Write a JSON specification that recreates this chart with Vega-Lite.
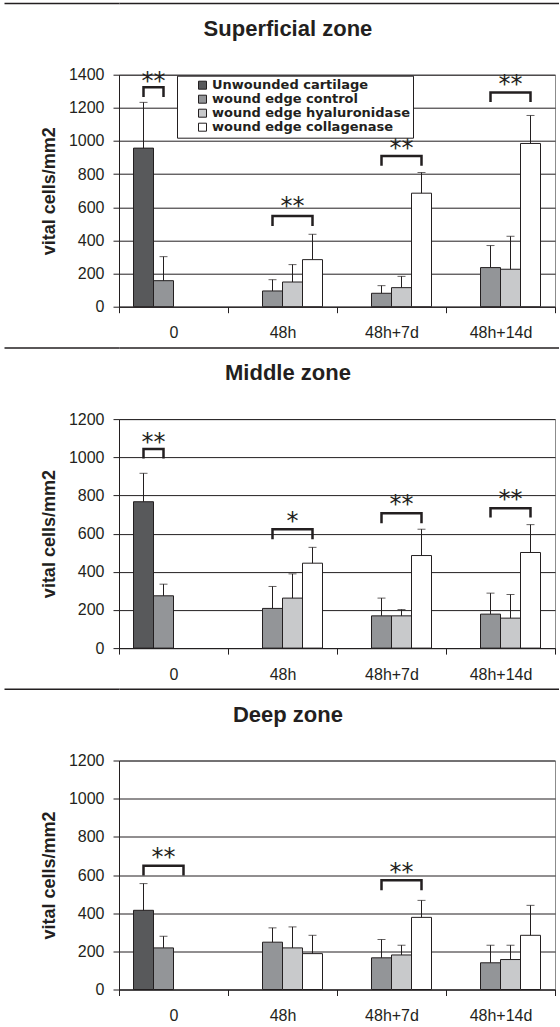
{
  "$schema": "https://vega.github.io/schema/vega-lite/v6.json",
  "background": "white",
  "padding": {"left": 3, "top": 2, "right": 0, "bottom": 0},
  "config": {
    "font": "Liberation Sans",
    "view": {"stroke": "#8c8c8c", "strokeWidth": 1},
    "axis": {
      "labelFont": "Liberation Sans", "labelFontSize": 16, "labelColor": "#231f20",
      "domainColor": "#231f20", "tickColor": "#231f20", "tickSize": 6,
      "titleFont": "Liberation Sans", "titleFontSize": 18, "titleFontWeight": "bold", "titleColor": "#231f20"
    },
    "axisY": {"labelOverlap": false, "labelFlush": false, "format": "d"},
    "title": {"font": "Liberation Sans", "fontSize": 22, "fontWeight": "bold", "color": "#231f20", "anchor": "middle", "frame": "bounds", "offset": 26, "dx": -10, "lineHeight": 8}
  },
  "columns": 1,
  "spacing": 4.7,
  "resolve": {"scale": {"y": "independent", "color": "independent"}, "legend": {"color": "independent"}},
  "datasets": {
    "rule": [{"v": 0}],
    "bars": [
      {"zone": "Superficial", "group": "0", "series": "Unwounded cartilage", "mean": 957, "upper": 1233},
      {"zone": "Superficial", "group": "0", "series": "wound edge control", "mean": 157, "upper": 302},
      {"zone": "Superficial", "group": "48h", "series": "wound edge control", "mean": 95, "upper": 163},
      {"zone": "Superficial", "group": "48h", "series": "wound edge hyaluronidase", "mean": 149, "upper": 254},
      {"zone": "Superficial", "group": "48h", "series": "wound edge collagenase", "mean": 284, "upper": 437},
      {"zone": "Superficial", "group": "48h+7d", "series": "wound edge control", "mean": 81, "upper": 127},
      {"zone": "Superficial", "group": "48h+7d", "series": "wound edge hyaluronidase", "mean": 115, "upper": 183},
      {"zone": "Superficial", "group": "48h+7d", "series": "wound edge collagenase", "mean": 685, "upper": 810},
      {"zone": "Superficial", "group": "48h+14d", "series": "wound edge control", "mean": 236, "upper": 369},
      {"zone": "Superficial", "group": "48h+14d", "series": "wound edge hyaluronidase", "mean": 226, "upper": 425},
      {"zone": "Superficial", "group": "48h+14d", "series": "wound edge collagenase", "mean": 985, "upper": 1154},
      {"zone": "Middle", "group": "0", "series": "Unwounded cartilage", "mean": 767, "upper": 916},
      {"zone": "Middle", "group": "0", "series": "wound edge control", "mean": 274, "upper": 335},
      {"zone": "Middle", "group": "48h", "series": "wound edge control", "mean": 208, "upper": 323},
      {"zone": "Middle", "group": "48h", "series": "wound edge hyaluronidase", "mean": 262, "upper": 389},
      {"zone": "Middle", "group": "48h", "series": "wound edge collagenase", "mean": 445, "upper": 528},
      {"zone": "Middle", "group": "48h+7d", "series": "wound edge control", "mean": 169, "upper": 262},
      {"zone": "Middle", "group": "48h+7d", "series": "wound edge hyaluronidase", "mean": 169, "upper": 202},
      {"zone": "Middle", "group": "48h+7d", "series": "wound edge collagenase", "mean": 485, "upper": 623},
      {"zone": "Middle", "group": "48h+14d", "series": "wound edge control", "mean": 178, "upper": 288},
      {"zone": "Middle", "group": "48h+14d", "series": "wound edge hyaluronidase", "mean": 157, "upper": 281},
      {"zone": "Middle", "group": "48h+14d", "series": "wound edge collagenase", "mean": 501, "upper": 647},
      {"zone": "Deep", "group": "0", "series": "Unwounded cartilage", "mean": 415, "upper": 555},
      {"zone": "Deep", "group": "0", "series": "wound edge control", "mean": 218, "upper": 279},
      {"zone": "Deep", "group": "48h", "series": "wound edge control", "mean": 248, "upper": 323},
      {"zone": "Deep", "group": "48h", "series": "wound edge hyaluronidase", "mean": 218, "upper": 328},
      {"zone": "Deep", "group": "48h", "series": "wound edge collagenase", "mean": 188, "upper": 284},
      {"zone": "Deep", "group": "48h+7d", "series": "wound edge control", "mean": 166, "upper": 262},
      {"zone": "Deep", "group": "48h+7d", "series": "wound edge hyaluronidase", "mean": 181, "upper": 232},
      {"zone": "Deep", "group": "48h+7d", "series": "wound edge collagenase", "mean": 378, "upper": 467},
      {"zone": "Deep", "group": "48h+14d", "series": "wound edge control", "mean": 140, "upper": 232},
      {"zone": "Deep", "group": "48h+14d", "series": "wound edge hyaluronidase", "mean": 157, "upper": 232},
      {"zone": "Deep", "group": "48h+14d", "series": "wound edge collagenase", "mean": 284, "upper": 441}
    ],
    "brackets": [
      {"zone": "Superficial", "id": "S0", "k": 1, "group": "0", "series": "Unwounded cartilage", "level": 1265},
      {"zone": "Superficial", "id": "S0", "k": 2, "group": "0", "series": "Unwounded cartilage", "level": 1325},
      {"zone": "Superficial", "id": "S0", "k": 3, "group": "0", "series": "wound edge control", "level": 1325},
      {"zone": "Superficial", "id": "S0", "k": 4, "group": "0", "series": "wound edge control", "level": 1265},
      {"zone": "Superficial", "id": "S48", "k": 1, "group": "48h", "series": "wound edge control", "level": 487},
      {"zone": "Superficial", "id": "S48", "k": 2, "group": "48h", "series": "wound edge control", "level": 548},
      {"zone": "Superficial", "id": "S48", "k": 3, "group": "48h", "series": "wound edge collagenase", "level": 548},
      {"zone": "Superficial", "id": "S48", "k": 4, "group": "48h", "series": "wound edge collagenase", "level": 487},
      {"zone": "Superficial", "id": "S7", "k": 1, "group": "48h+7d", "series": "wound edge control", "level": 850},
      {"zone": "Superficial", "id": "S7", "k": 2, "group": "48h+7d", "series": "wound edge control", "level": 910},
      {"zone": "Superficial", "id": "S7", "k": 3, "group": "48h+7d", "series": "wound edge collagenase", "level": 910},
      {"zone": "Superficial", "id": "S7", "k": 4, "group": "48h+7d", "series": "wound edge collagenase", "level": 850},
      {"zone": "Superficial", "id": "S14", "k": 1, "group": "48h+14d", "series": "wound edge control", "level": 1235},
      {"zone": "Superficial", "id": "S14", "k": 2, "group": "48h+14d", "series": "wound edge control", "level": 1293},
      {"zone": "Superficial", "id": "S14", "k": 3, "group": "48h+14d", "series": "wound edge collagenase", "level": 1293},
      {"zone": "Superficial", "id": "S14", "k": 4, "group": "48h+14d", "series": "wound edge collagenase", "level": 1235},
      {"zone": "Middle", "id": "M0", "k": 1, "group": "0", "series": "Unwounded cartilage", "level": 994},
      {"zone": "Middle", "id": "M0", "k": 2, "group": "0", "series": "Unwounded cartilage", "level": 1043},
      {"zone": "Middle", "id": "M0", "k": 3, "group": "0", "series": "wound edge control", "level": 1043},
      {"zone": "Middle", "id": "M0", "k": 4, "group": "0", "series": "wound edge control", "level": 994},
      {"zone": "Middle", "id": "M48", "k": 1, "group": "48h", "series": "wound edge control", "level": 570},
      {"zone": "Middle", "id": "M48", "k": 2, "group": "48h", "series": "wound edge control", "level": 623},
      {"zone": "Middle", "id": "M48", "k": 3, "group": "48h", "series": "wound edge collagenase", "level": 623},
      {"zone": "Middle", "id": "M48", "k": 4, "group": "48h", "series": "wound edge collagenase", "level": 570},
      {"zone": "Middle", "id": "M7", "k": 1, "group": "48h+7d", "series": "wound edge control", "level": 654},
      {"zone": "Middle", "id": "M7", "k": 2, "group": "48h+7d", "series": "wound edge control", "level": 706},
      {"zone": "Middle", "id": "M7", "k": 3, "group": "48h+7d", "series": "wound edge collagenase", "level": 706},
      {"zone": "Middle", "id": "M7", "k": 4, "group": "48h+7d", "series": "wound edge collagenase", "level": 654},
      {"zone": "Middle", "id": "M14", "k": 1, "group": "48h+14d", "series": "wound edge control", "level": 684},
      {"zone": "Middle", "id": "M14", "k": 2, "group": "48h+14d", "series": "wound edge control", "level": 733},
      {"zone": "Middle", "id": "M14", "k": 3, "group": "48h+14d", "series": "wound edge collagenase", "level": 733},
      {"zone": "Middle", "id": "M14", "k": 4, "group": "48h+14d", "series": "wound edge collagenase", "level": 684},
      {"zone": "Deep", "id": "D0", "k": 1, "group": "0", "series": "Unwounded cartilage", "level": 597},
      {"zone": "Deep", "id": "D0", "k": 2, "group": "0", "series": "Unwounded cartilage", "level": 649},
      {"zone": "Deep", "id": "D0", "k": 3, "group": "0", "series": "wound edge hyaluronidase", "level": 649},
      {"zone": "Deep", "id": "D0", "k": 4, "group": "0", "series": "wound edge hyaluronidase", "level": 597},
      {"zone": "Deep", "id": "D7", "k": 1, "group": "48h+7d", "series": "wound edge control", "level": 520},
      {"zone": "Deep", "id": "D7", "k": 2, "group": "48h+7d", "series": "wound edge control", "level": 572},
      {"zone": "Deep", "id": "D7", "k": 3, "group": "48h+7d", "series": "wound edge collagenase", "level": 572},
      {"zone": "Deep", "id": "D7", "k": 4, "group": "48h+7d", "series": "wound edge collagenase", "level": 520}
    ],
    "stars": [
      {"zone": "Superficial", "group": "0", "series": "Unwounded cartilage", "label": "**", "level": 1394, "between": true},
      {"zone": "Superficial", "group": "48h", "series": "wound edge hyaluronidase", "label": "**", "level": 635, "between": false},
      {"zone": "Superficial", "group": "48h+7d", "series": "wound edge hyaluronidase", "label": "**", "level": 987, "between": false},
      {"zone": "Superficial", "group": "48h+14d", "series": "wound edge hyaluronidase", "label": "**", "level": 1376, "between": false},
      {"zone": "Middle", "group": "0", "series": "Unwounded cartilage", "label": "**", "level": 1108, "between": true},
      {"zone": "Middle", "group": "48h", "series": "wound edge hyaluronidase", "label": "*", "level": 694, "between": false},
      {"zone": "Middle", "group": "48h+7d", "series": "wound edge hyaluronidase", "label": "**", "level": 780, "between": false},
      {"zone": "Middle", "group": "48h+14d", "series": "wound edge hyaluronidase", "label": "**", "level": 808, "between": false},
      {"zone": "Deep", "group": "0", "series": "wound edge control", "label": "**", "level": 719, "between": false},
      {"zone": "Deep", "group": "48h+7d", "series": "wound edge hyaluronidase", "label": "**", "level": 642, "between": false}
    ]
  },
  "concat": [
    {
      "width": 440, "height": 1,
      "data": {"name": "rule"},
      "mark": {"type": "point", "opacity": 0, "size": 1},
      "encoding": {"y": {"field": "v", "type": "quantitative", "scale": {"domain": [0, 1]},
                         "axis": {"values": [0], "title": null, "labels": false, "domain": false, "tickSize": 115, "tickColor": "#231f20", "tickWidth": 1.5, "grid": true, "gridColor": "#231f20", "gridWidth": 1.5}}},
      "view": {"stroke": null}
    },
    {
      "width": 436, "height": 232,
      "title": {"text": ["", "Superficial zone"]},
      "encoding": {
        "x": {"field": "group", "type": "nominal", "sort": ["0", "48h", "48h+7d", "48h+14d"],
              "scale": {"domain": ["0", "48h", "48h+7d", "48h+14d"], "paddingInner": 0, "paddingOuter": 0},
              "axis": {"title": null, "labelAngle": 0, "tickBand": "extent", "labelPadding": 12, "grid": false}},
        "xOffset": {"field": "series", "type": "nominal",
              "scale": {"domain": ["Unwounded cartilage", "wound edge control", "wound edge hyaluronidase", "wound edge collagenase"], "paddingInner": 0, "paddingOuter": 0.725}}
      },
      "layer": [
        {
          "data": {"name": "bars"},
          "transform": [{"filter": "datum.zone === 'Superficial'"}],
          "mark": {"type": "bar", "stroke": "#231f20", "strokeWidth": 1},
          "encoding": {
            "y": {"field": "mean", "type": "quantitative", "title": "vital cells/mm2", "scale": {"domain": [0, 1400], "nice": false},
                  "axis": {"values": [0, 200, 400, 600, 800, 1000, 1200, 1400], "grid": true, "gridColor": "#231f20", "labelPadding": 9, "titlePadding": 10}},
            "color": {"field": "series", "type": "nominal",
                      "scale": {"domain": ["Unwounded cartilage", "wound edge control", "wound edge hyaluronidase", "wound edge collagenase"], "range": ["#58595b", "#939598", "#c8c9cb", "#ffffff"]},
                      "legend": {"orient": "none", "legendX": 58, "legendY": 1, "title": null, "direction": "vertical",
                                 "labelFont": "DejaVu Sans", "labelFontSize": 13, "labelFontWeight": "bold", "labelColor": "#231f20", "labelLimit": 400,
                                 "symbolType": "square", "symbolSize": 64, "symbolStrokeColor": "#231f20", "symbolStrokeWidth": 1,
                                 "strokeColor": "#231f20", "fillColor": "white", "padding": 3, "rowPadding": 0, "labelOffset": 3, "symbolOffset": 16}}
          }
        },
        {
          "data": {"name": "bars"},
          "transform": [{"filter": "datum.zone === 'Superficial'"}],
          "mark": {"type": "rule", "color": "#231f20", "strokeWidth": 1},
          "encoding": {"y": {"field": "mean", "type": "quantitative", "title": "vital cells/mm2", "axis": {"values": [0, 200, 400, 600, 800, 1000, 1200, 1400], "grid": true, "gridColor": "#231f20", "labelPadding": 9, "titlePadding": 10}}, "y2": {"field": "upper"}}
        },
        {
          "data": {"name": "bars"},
          "transform": [{"filter": "datum.zone === 'Superficial'"}],
          "mark": {"type": "tick", "color": "#231f20", "size": 8, "thickness": 1, "orient": "horizontal"},
          "encoding": {"y": {"field": "upper", "type": "quantitative", "title": "vital cells/mm2", "axis": {"values": [0, 200, 400, 600, 800, 1000, 1200, 1400], "grid": true, "gridColor": "#231f20", "labelPadding": 9, "titlePadding": 10}}}
        },
        {
          "data": {"name": "brackets"},
          "transform": [{"filter": "datum.zone === 'Superficial'"}],
          "mark": {"type": "line", "color": "#231f20", "strokeWidth": 2.5, "strokeJoin": "miter"},
          "encoding": {"y": {"field": "level", "type": "quantitative", "title": "vital cells/mm2", "axis": {"values": [0, 200, 400, 600, 800, 1000, 1200, 1400], "grid": true, "gridColor": "#231f20", "labelPadding": 9, "titlePadding": 10}}, "detail": {"field": "id"}, "order": {"field": "k"}}
        },
        {
          "data": {"name": "stars"},
          "transform": [{"filter": "datum.zone === 'Superficial' && !datum.between"}],
          "mark": {"type": "text", "font": "DejaVu Sans", "fontSize": 24, "baseline": "alphabetic", "dy": 13, "color": "#231f20"},
          "encoding": {"y": {"field": "level", "type": "quantitative", "title": "vital cells/mm2", "axis": {"values": [0, 200, 400, 600, 800, 1000, 1200, 1400], "grid": true, "gridColor": "#231f20", "labelPadding": 9, "titlePadding": 10}}, "text": {"field": "label"}}
        },
        {
          "data": {"name": "stars"},
          "transform": [{"filter": "datum.zone === 'Superficial' && datum.between"}],
          "mark": {"type": "text", "font": "DejaVu Sans", "fontSize": 24, "baseline": "alphabetic", "dy": 13, "dx": 10, "color": "#231f20"},
          "encoding": {"y": {"field": "level", "type": "quantitative", "title": "vital cells/mm2", "axis": {"values": [0, 200, 400, 600, 800, 1000, 1200, 1400], "grid": true, "gridColor": "#231f20", "labelPadding": 9, "titlePadding": 10}}, "text": {"field": "label"}}
        }
      ]
    },
    {
      "width": 440, "height": 1,
      "data": {"name": "rule"},
      "mark": {"type": "point", "opacity": 0, "size": 1},
      "encoding": {"y": {"field": "v", "type": "quantitative", "scale": {"domain": [0, 1]},
                         "axis": {"values": [0], "title": null, "labels": false, "domain": false, "tickSize": 115, "tickColor": "#231f20", "tickWidth": 1.5, "grid": true, "gridColor": "#231f20", "gridWidth": 1.5}}},
      "view": {"stroke": null}
    },
    {
      "width": 436, "height": 229,
      "title": {"text": ["", "Middle zone"]},
      "encoding": {
        "x": {"field": "group", "type": "nominal", "sort": ["0", "48h", "48h+7d", "48h+14d"],
              "scale": {"domain": ["0", "48h", "48h+7d", "48h+14d"], "paddingInner": 0, "paddingOuter": 0},
              "axis": {"title": null, "labelAngle": 0, "tickBand": "extent", "labelPadding": 12, "grid": false}},
        "xOffset": {"field": "series", "type": "nominal",
              "scale": {"domain": ["Unwounded cartilage", "wound edge control", "wound edge hyaluronidase", "wound edge collagenase"], "paddingInner": 0, "paddingOuter": 0.725}}
      },
      "layer": [
        {
          "data": {"name": "bars"},
          "transform": [{"filter": "datum.zone === 'Middle'"}],
          "mark": {"type": "bar", "stroke": "#231f20", "strokeWidth": 1},
          "encoding": {
            "y": {"field": "mean", "type": "quantitative", "title": "vital cells/mm2", "scale": {"domain": [0, 1200], "nice": false},
                  "axis": {"values": [0, 200, 400, 600, 800, 1000, 1200], "grid": true, "gridColor": "#231f20", "labelPadding": 9, "titlePadding": 10}},
            "color": {"field": "series", "type": "nominal",
                      "scale": {"domain": ["Unwounded cartilage", "wound edge control", "wound edge hyaluronidase", "wound edge collagenase"], "range": ["#58595b", "#939598", "#c8c9cb", "#ffffff"]},
                      "legend": null}
          }
        },
        {
          "data": {"name": "bars"},
          "transform": [{"filter": "datum.zone === 'Middle'"}],
          "mark": {"type": "rule", "color": "#231f20", "strokeWidth": 1},
          "encoding": {"y": {"field": "mean", "type": "quantitative", "title": "vital cells/mm2", "axis": {"values": [0, 200, 400, 600, 800, 1000, 1200], "grid": true, "gridColor": "#231f20", "labelPadding": 9, "titlePadding": 10}}, "y2": {"field": "upper"}}
        },
        {
          "data": {"name": "bars"},
          "transform": [{"filter": "datum.zone === 'Middle'"}],
          "mark": {"type": "tick", "color": "#231f20", "size": 8, "thickness": 1, "orient": "horizontal"},
          "encoding": {"y": {"field": "upper", "type": "quantitative", "title": "vital cells/mm2", "axis": {"values": [0, 200, 400, 600, 800, 1000, 1200], "grid": true, "gridColor": "#231f20", "labelPadding": 9, "titlePadding": 10}}}
        },
        {
          "data": {"name": "brackets"},
          "transform": [{"filter": "datum.zone === 'Middle'"}],
          "mark": {"type": "line", "color": "#231f20", "strokeWidth": 2.5, "strokeJoin": "miter"},
          "encoding": {"y": {"field": "level", "type": "quantitative", "title": "vital cells/mm2", "axis": {"values": [0, 200, 400, 600, 800, 1000, 1200], "grid": true, "gridColor": "#231f20", "labelPadding": 9, "titlePadding": 10}}, "detail": {"field": "id"}, "order": {"field": "k"}}
        },
        {
          "data": {"name": "stars"},
          "transform": [{"filter": "datum.zone === 'Middle' && !datum.between"}],
          "mark": {"type": "text", "font": "DejaVu Sans", "fontSize": 24, "baseline": "alphabetic", "dy": 13, "color": "#231f20"},
          "encoding": {"y": {"field": "level", "type": "quantitative", "title": "vital cells/mm2", "axis": {"values": [0, 200, 400, 600, 800, 1000, 1200], "grid": true, "gridColor": "#231f20", "labelPadding": 9, "titlePadding": 10}}, "text": {"field": "label"}}
        },
        {
          "data": {"name": "stars"},
          "transform": [{"filter": "datum.zone === 'Middle' && datum.between"}],
          "mark": {"type": "text", "font": "DejaVu Sans", "fontSize": 24, "baseline": "alphabetic", "dy": 13, "dx": 10, "color": "#231f20"},
          "encoding": {"y": {"field": "level", "type": "quantitative", "title": "vital cells/mm2", "axis": {"values": [0, 200, 400, 600, 800, 1000, 1200], "grid": true, "gridColor": "#231f20", "labelPadding": 9, "titlePadding": 10}}, "text": {"field": "label"}}
        }
      ]
    },
    {
      "width": 440, "height": 1,
      "data": {"name": "rule"},
      "mark": {"type": "point", "opacity": 0, "size": 1},
      "encoding": {"y": {"field": "v", "type": "quantitative", "scale": {"domain": [0, 1]},
                         "axis": {"values": [0], "title": null, "labels": false, "domain": false, "tickSize": 115, "tickColor": "#231f20", "tickWidth": 1.5, "grid": true, "gridColor": "#231f20", "gridWidth": 1.5}}},
      "view": {"stroke": null}
    },
    {
      "width": 436, "height": 229,
      "title": {"text": ["", "Deep zone"]},
      "encoding": {
        "x": {"field": "group", "type": "nominal", "sort": ["0", "48h", "48h+7d", "48h+14d"],
              "scale": {"domain": ["0", "48h", "48h+7d", "48h+14d"], "paddingInner": 0, "paddingOuter": 0},
              "axis": {"title": null, "labelAngle": 0, "tickBand": "extent", "labelPadding": 12, "grid": false}},
        "xOffset": {"field": "series", "type": "nominal",
              "scale": {"domain": ["Unwounded cartilage", "wound edge control", "wound edge hyaluronidase", "wound edge collagenase"], "paddingInner": 0, "paddingOuter": 0.725}}
      },
      "layer": [
        {
          "data": {"name": "bars"},
          "transform": [{"filter": "datum.zone === 'Deep'"}],
          "mark": {"type": "bar", "stroke": "#231f20", "strokeWidth": 1},
          "encoding": {
            "y": {"field": "mean", "type": "quantitative", "title": "vital cells/mm2", "scale": {"domain": [0, 1200], "nice": false},
                  "axis": {"values": [0, 200, 400, 600, 800, 1000, 1200], "grid": true, "gridColor": "#231f20", "labelPadding": 9, "titlePadding": 10}},
            "color": {"field": "series", "type": "nominal",
                      "scale": {"domain": ["Unwounded cartilage", "wound edge control", "wound edge hyaluronidase", "wound edge collagenase"], "range": ["#58595b", "#939598", "#c8c9cb", "#ffffff"]},
                      "legend": null}
          }
        },
        {
          "data": {"name": "bars"},
          "transform": [{"filter": "datum.zone === 'Deep'"}],
          "mark": {"type": "rule", "color": "#231f20", "strokeWidth": 1},
          "encoding": {"y": {"field": "mean", "type": "quantitative", "title": "vital cells/mm2", "axis": {"values": [0, 200, 400, 600, 800, 1000, 1200], "grid": true, "gridColor": "#231f20", "labelPadding": 9, "titlePadding": 10}}, "y2": {"field": "upper"}}
        },
        {
          "data": {"name": "bars"},
          "transform": [{"filter": "datum.zone === 'Deep'"}],
          "mark": {"type": "tick", "color": "#231f20", "size": 8, "thickness": 1, "orient": "horizontal"},
          "encoding": {"y": {"field": "upper", "type": "quantitative", "title": "vital cells/mm2", "axis": {"values": [0, 200, 400, 600, 800, 1000, 1200], "grid": true, "gridColor": "#231f20", "labelPadding": 9, "titlePadding": 10}}}
        },
        {
          "data": {"name": "brackets"},
          "transform": [{"filter": "datum.zone === 'Deep'"}],
          "mark": {"type": "line", "color": "#231f20", "strokeWidth": 2.5, "strokeJoin": "miter"},
          "encoding": {"y": {"field": "level", "type": "quantitative", "title": "vital cells/mm2", "axis": {"values": [0, 200, 400, 600, 800, 1000, 1200], "grid": true, "gridColor": "#231f20", "labelPadding": 9, "titlePadding": 10}}, "detail": {"field": "id"}, "order": {"field": "k"}}
        },
        {
          "data": {"name": "stars"},
          "transform": [{"filter": "datum.zone === 'Deep'"}],
          "mark": {"type": "text", "font": "DejaVu Sans", "fontSize": 24, "baseline": "alphabetic", "dy": 13, "color": "#231f20"},
          "encoding": {"y": {"field": "level", "type": "quantitative", "title": "vital cells/mm2", "axis": {"values": [0, 200, 400, 600, 800, 1000, 1200], "grid": true, "gridColor": "#231f20", "labelPadding": 9, "titlePadding": 10}}, "text": {"field": "label"}}
        }
      ]
    }
  ]
}
